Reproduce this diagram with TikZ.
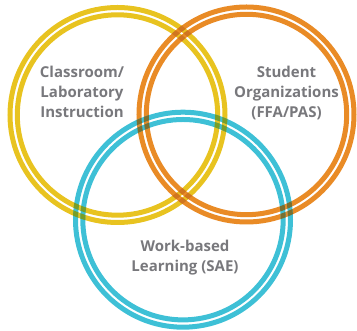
\documentclass[tikz,border=0pt]{standalone}
\usepackage{fontspec}
\setmainfont{Open Sans}
\definecolor{ylw}{RGB}{232,195,32}
\definecolor{org}{RGB}{233,139,38}
\definecolor{cyn}{RGB}{62,192,214}
\definecolor{mixYO}{RGB}{208,118,30}
\definecolor{mixYC}{RGB}{120,158,40}
\definecolor{mixOC}{RGB}{122,112,48}
\definecolor{txtgray}{RGB}{120,120,124}
\tikzset{
  band/.style={line width=5pt},
  lbl/.style={font=\fontsize{15}{20}\selectfont\bfseries, text=txtgray, align=center, inner sep=0pt},
  ann/.style n args={3}{insert path={([xshift=#3]#1) arc[start angle=0,end angle=360,radius=#3] -- cycle
     ([xshift=#2]#1) arc[start angle=0,end angle=-360,radius=#2] -- cycle}}
}
\begin{document}
\begin{tikzpicture}[x=1pt,y=1pt]
\useasboundingbox (0,0) rectangle (357,331);
\coordinate (Yc) at (117.5,216);
\coordinate (Oc) at (246.5,216.5);
\coordinate (Cc) at (183,111.3);
\foreach \c/\col in {Yc/ylw,Oc/org,Cc/cyn}{
  \foreach \r in {107.5,100.2}{
    \draw[band,\col] (\c) circle[radius=\r];}}
\foreach \a/\b/\m in {Yc/Oc/mixYO, Yc/Cc/mixYC, Oc/Cc/mixOC}{
  \foreach \ra in {107.5,100.2}{
    \begin{scope}
      \clip[ann={\a}{\ra-2.5}{\ra+2.5}];
      \foreach \rb in {107.5,100.2} \draw[band,\m] (\b) circle[radius=\rb];
    \end{scope}}}
\node[lbl, anchor=base] (cl) at (82,213.3) {Classroom/\\Laboratory\\Instruction};
\node[lbl, anchor=base] (so) at (286.5,213.3) {Student\\Organizations\\(FFA/PAS)};
\node[lbl, anchor=base] (wb) at (185,59) {Work-based\\Learning (SAE)};
\end{tikzpicture}
\end{document}
